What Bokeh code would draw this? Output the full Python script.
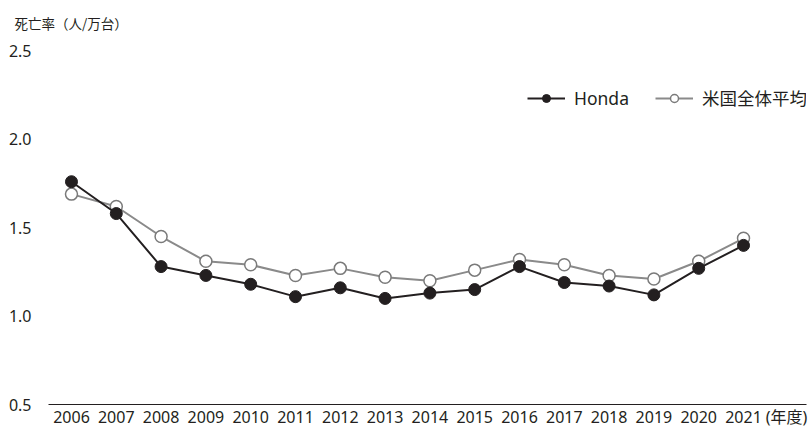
from bokeh.plotting import figure
from bokeh.models import Range1d, FixedTicker, Legend, LegendItem
from bokeh.embed import file_html
from bokeh.resources import INLINE

# ---- data ----
years = list(range(2006, 2022))
honda = [1.76, 1.58, 1.28, 1.23, 1.18, 1.11, 1.16, 1.10, 1.13, 1.15, 1.28, 1.19, 1.17, 1.12, 1.27, 1.40]
us_avg = [1.69, 1.62, 1.45, 1.31, 1.29, 1.23, 1.27, 1.22, 1.20, 1.26, 1.32, 1.29, 1.23, 1.21, 1.31, 1.44]
y_ticks = [0.5, 1.0, 1.5, 2.0, 2.5]
y_title = "死亡率（人/万台）"
x_unit = "(年度)"
series_names = ["Honda", "米国全体平均"]

FONT = "'Noto Sans', 'Noto Sans CJK JP', sans-serif"
CJK = "'Noto Sans CJK JP', sans-serif"
TXT = "#231f20"

y_base = y_ticks[0]
px_per_unit = 179.25
y_hi = y_base + 366 / px_per_unit

p = figure(width=811, height=430, output_backend="svg", toolbar_location=None,
           x_range=Range1d(2005.487, 2022.406), y_range=Range1d(y_base, y_hi),
           min_border_left=48, min_border_right=5, min_border_top=40, min_border_bottom=24)
p.grid.visible = False
p.outline_line_color = None
p.background_fill_color = "white"
p.border_fill_color = "white"

# title
p.title.text = y_title
p.title.text_font = CJK
p.title.text_font_size = "13.5px"
p.title.text_font_style = "normal"
p.title.text_color = TXT
p.title.align = "left"
p.title.offset = -34
p.title.standoff = 21

# y axis
p.yaxis.ticker = FixedTicker(ticks=y_ticks)
p.yaxis.major_label_overrides = {t: f"{t:.1f}" for t in y_ticks}
p.yaxis.axis_line_color = None
p.yaxis.major_tick_line_color = None
p.yaxis.minor_tick_line_color = None
p.yaxis.major_label_standoff = 11
p.yaxis.major_label_text_font = FONT
p.yaxis.major_label_text_font_size = "16px"
p.yaxis.major_label_text_color = TXT

# x axis (line at 0.5)
unit_pos = 2021.96
p.xaxis.ticker = FixedTicker(ticks=years + [unit_pos])
overrides = {y: str(y) for y in years}
overrides[unit_pos] = x_unit
p.xaxis.major_label_overrides = overrides
p.xaxis.axis_line_color = TXT
p.xaxis.axis_line_width = 1
p.xaxis.major_tick_line_color = None
p.xaxis.minor_tick_line_color = None
p.xaxis.major_tick_out = 0
p.xaxis.major_tick_in = 0
p.xaxis.major_label_standoff = 1
p.xaxis.major_label_text_font = FONT
p.xaxis.major_label_text_font_size = "16px"
p.xaxis.major_label_text_color = TXT

# series
l_us = p.line(years, us_avg, line_color="#8a8a8a", line_width=2)
s_us = p.scatter(years, us_avg, size=12, fill_color="white", line_color="#7a7a7a", line_width=1.5)
l_h = p.line(years, honda, line_color="#231f20", line_width=2)
s_h = p.scatter(years, honda, size=12, fill_color="#231f20", line_color="#231f20")

legend = Legend(items=[LegendItem(label=series_names[0], renderers=[l_h, s_h]),
                       LegendItem(label=series_names[1], renderers=[l_us, s_us])],
                location=(479, 294), orientation="horizontal",
                glyph_width=38, glyph_height=20, label_standoff=9, spacing=26,
                padding=0, margin=0,
                label_text_font=FONT, label_text_font_size="17.5px", label_text_color=TXT,
                background_fill_alpha=0, border_line_color=None)
p.add_layout(legend)

open("out.html", "w").write(file_html(p, INLINE))
